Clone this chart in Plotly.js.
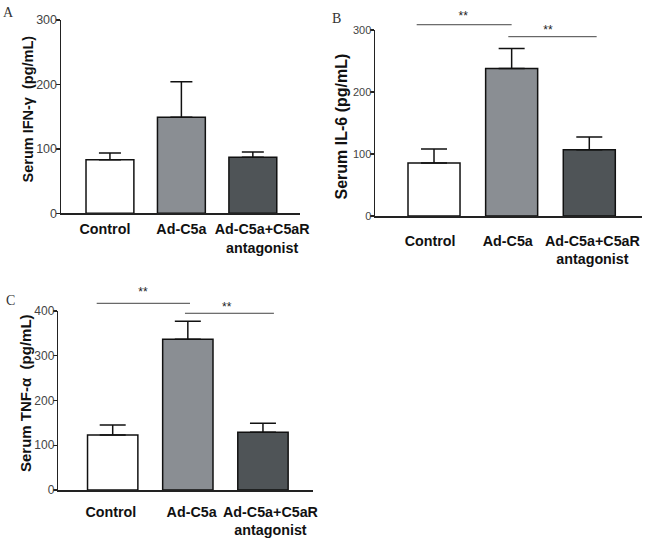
<!DOCTYPE html>
<html><head><meta charset="utf-8">
<script src="https://cdn.plot.ly/plotly-3.0.1.min.js"></script>
<style>html,body{margin:0;padding:0;background:#fff;} #chart{width:650px;height:548px;}</style>
</head><body><div id="chart"></div>
<script>
// ---------- data ----------
const categories = ['Control', 'Ad-C5a', 'Ad-C5a+C5aR<br>antagonist'];
const ifnMean = [83, 149, 87];
const ifnSem  = [10.5, 55, 8];
const il6Mean = [85.5, 238, 107];
const il6Sem  = [22.5, 32, 20.5];
const tnfMean = [123, 337, 129];
const tnfSem  = [22, 40, 20];
const yTicks300 = [0, 100, 200, 300];
const yTicks400 = [0, 100, 200, 300, 400];
const sigLabels = ['**', '**'];

// ---------- style / geometry ----------
const W = 650, H = 548;
const barColors = ['#ffffff', '#8a8e93', '#4f5457'];
const catFont = {family: 'Liberation Sans, Arial, sans-serif', size: 14.3, color: '#111', weight: 'bold'};
const letterFont = {family: 'Liberation Serif, DejaVu Serif, serif', size: 14, color: '#333'};

const panels = [
  {id: '', letter: 'A', title: '<b>Serum IFN-γ  (pg/mL)</b>', titleSize: 14.5, tickSize: 12.5,
   mean: ifnMean, sem: ifnSem, ticks: yTicks300, labelShift: [-0.07, 0, 0.13],
   px: [61, 300], py: [213.3, 20], xr: [-0.685, 2.66], capW: 11, catLen: 2,
   titlePos: [27, 109.5], letterPos: [8.5, 12.5]},
  {id: '2', letter: 'B', title: '<b>Serum IL-6 (pg/mL)</b>', titleSize: 16, tickSize: 11,
   mean: il6Mean, sem: il6Sem, ticks: yTicks300, labelShift: [-0.05, -0.05, 0.04],
   px: [375, 641.7], py: [216, 30], xr: [-0.76, 2.675], capW: 13, catLen: 11,
   titlePos: [341, 126.5], letterPos: [336, 18.3],
   sig: {top: 0, x0: [-0.223, 0.957], x1: [1.0, 2.095], y: [308.5, 289.2], sx: [0.377, 1.468], sy: [321, 297.6]}},
  {id: '3', letter: 'C', title: '<b>Serum TNF-α  (pg/mL)</b>', titleSize: 15, tickSize: 12,
   mean: tnfMean, sem: tnfSem, ticks: yTicks400, labelShift: [-0.025, 0.05, 0.10],
   px: [58.3, 313.3], py: [490, 311], xr: [-0.724, 2.67], capW: 13, catLen: 8,
   titlePos: [25, 393], letterPos: [10.8, 300],
   sig: {top: 240, x0: [-0.213, 0.962], x1: [1.029, 2.146], y: [417.2, 394.9], sx: [0.403, 1.517], sy: [440.9, 407.4]}}
];

const data = [];
const layout = {
  width: W, height: H, margin: {l: 0, r: 0, t: 0, b: 0},
  paper_bgcolor: '#ffffff', plot_bgcolor: 'rgba(0,0,0,0)',
  showlegend: false, annotations: [], bargap: 0
};
const xIdx = categories.map((c, i) => i);
let extra = 4;

panels.forEach(p => {
  const xName = 'x' + p.id, yName = 'y' + p.id;
  const xd = [p.px[0] / W, p.px[1] / W];
  const yd = [1 - p.py[0] / H, 1 - p.py[1] / H];
  const yMax = p.ticks[p.ticks.length - 1];
  layout['xaxis' + p.id] = {
    domain: xd, anchor: yName, range: p.xr,
    tickvals: xIdx.map((v, i) => v + p.labelShift[i]), ticktext: categories, tickangle: 0,
    showline: true, linecolor: '#222', linewidth: 1.5, ticks: 'outside', ticklen: p.catLen,
    tickcolor: 'rgba(0,0,0,0)', tickfont: catFont, showgrid: false, zeroline: false, fixedrange: true
  };
  layout['yaxis' + p.id] = {
    domain: yd, anchor: xName, range: [0, yMax], tickvals: p.ticks,
    showline: true, linecolor: '#222', linewidth: 1.5, ticks: 'outside', ticklen: 4, tickwidth: 1.3,
    tickcolor: '#222', ticklabelstandoff: -4,
    tickfont: {family: 'Liberation Sans, Arial, sans-serif', size: p.tickSize, color: '#444'},
    showgrid: false, zeroline: false, fixedrange: true
  };
  data.push({
    type: 'bar', x: xIdx, y: p.mean, xaxis: xName, yaxis: yName, width: 0.67,
    marker: {color: barColors, line: {color: '#111', width: 1.5}},
    error_y: {type: 'data', array: p.sem, arrayminus: p.sem.map(() => 0), symmetric: false,
              color: '#111', thickness: 1.5, width: p.capW},
    hoverinfo: 'skip'
  });
  layout.annotations.push({
    xref: 'paper', yref: 'paper', x: p.titlePos[0] / W, y: 1 - p.titlePos[1] / H,
    text: p.title, textangle: -90, showarrow: false,
    font: {family: 'Liberation Sans, Arial, sans-serif', size: p.titleSize, color: '#111'},
    xanchor: 'center', yanchor: 'middle'
  });
  layout.annotations.push({
    xref: 'paper', yref: 'paper', x: p.letterPos[0] / W, y: 1 - p.letterPos[1] / H,
    text: p.letter, showarrow: false, font: letterFont, xanchor: 'center', yanchor: 'middle'
  });
  if (p.sig) {
    // invisible taller axis sharing the same value scale, for significance brackets
    const yid = String(extra++);
    const topFrac = 1 - p.sig.top / H;
    const rTop = yMax * (topFrac - yd[0]) / (yd[1] - yd[0]);
    layout['yaxis' + yid] = {domain: [yd[0], topFrac], anchor: xName, range: [0, rTop], visible: false, fixedrange: true};
    p.sig.x0.forEach((x0, k) => {
      data.push({type: 'scatter', mode: 'lines', x: [x0, p.sig.x1[k]], y: [p.sig.y[k], p.sig.y[k]],
        xaxis: xName, yaxis: 'y' + yid, line: {color: '#444', width: 1}, hoverinfo: 'skip'});
    });
    data.push({type: 'scatter', mode: 'text', x: p.sig.sx, y: p.sig.sy, text: sigLabels,
      textposition: 'middle center', cliponaxis: false,
      textfont: {family: 'Liberation Sans, Arial, sans-serif', size: 12, color: '#222'},
      xaxis: xName, yaxis: 'y' + yid, hoverinfo: 'skip'});
  }
});

Plotly.newPlot('chart', data, layout, {staticPlot: true, displayModeBar: false});
</script>
</body></html>
